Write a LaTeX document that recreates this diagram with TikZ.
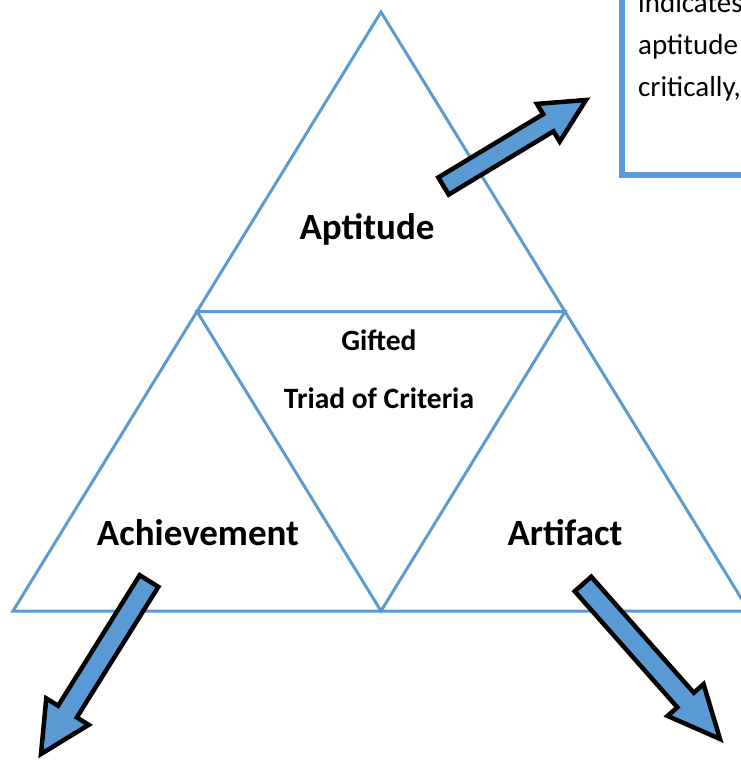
\documentclass[tikz,border=0pt]{standalone}
\usepackage{fontspec}
\setmainfont{Carlito}
\usetikzlibrary{calc}
\definecolor{tblue}{HTML}{5B9BD5}
\newcommand\blockarr[5]{%
  \draw[blockarrow] ($(#1)!#3!90:(#2)$) -- ($($(#2)!#5!(#1)$)!#3!90:(#2)$)
    -- ($($(#2)!#5!(#1)$)!#4!90:(#2)$) -- (#2)
    -- ($($(#2)!#5!(#1)$)!#4!-90:(#2)$) -- ($($(#2)!#5!(#1)$)!#3!-90:(#2)$)
    -- ($(#1)!#3!-90:(#2)$) -- cycle;}
\begin{document}
\begin{tikzpicture}[x=1pt,y=-1pt,
  triline/.style={draw=tblue,line width=3pt,line join=miter},
  blockarrow/.style={draw=black,fill=tblue,line width=4.5pt,line join=miter},
  biglabel/.style={font=\bfseries\fontsize{37}{42}\selectfont,anchor=base,inner sep=0pt},
  midlabel/.style={font=\bfseries\fontsize{29.5}{34}\selectfont,anchor=base,inner sep=0pt},
  boxtext/.style={font=\fontsize{29}{34}\selectfont,anchor=base west,inner sep=0pt}]
\useasboundingbox (0,0) rectangle (741,761);
\clip (0,0) rectangle (741,761);
% triangle
\coordinate (top) at (381,12);
\coordinate (bl) at (13,611);
\coordinate (br) at (749,611);
\coordinate (ml) at (197,311.5);
\coordinate (mr) at (565,311.5);
\coordinate (mb) at (381,611);
\draw[triline] (top) -- (bl) -- (br) -- cycle;
\draw[triline] (ml) -- (mr) -- (mb) -- cycle;
% box
\draw[draw=tblue,line width=6pt] (622,-20) rectangle (770,175);
\node[boxtext] (t1) at (638,12) {indicates};
\node[boxtext] (t2) at (638,54) {aptitude};
\node[boxtext] (t3) at (638,96) {critically,};
% labels
\node[biglabel] (apt) at (367,239) {Aptitude};
\node[biglabel] (ach) at (198,545) {Achievement};
\node[biglabel] (art) at (565,545) {Artifact};
\node[midlabel] (gif) at (379,350) {Gifted};
\node[midlabel] (tri) at (379,408) {Triad of Criteria};
% arrows
\coordinate (a1t) at (443.5,186);
\coordinate (a1p) at (586,100);
\coordinate (a2t) at (149,581);
\coordinate (a2p) at (41,754);
\coordinate (a3t) at (583,584);
\coordinate (a3p) at (720,739);
\blockarr{a1t}{a1p}{10pt}{22pt}{44pt}
\blockarr{a2t}{a2p}{11pt}{25pt}{50pt}
\blockarr{a3t}{a3p}{11pt}{24pt}{52pt}
\end{tikzpicture}
\end{document}
